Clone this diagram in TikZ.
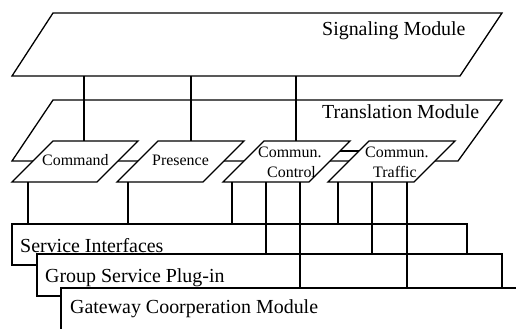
\documentclass[tikz,border=0pt]{standalone}
\usepackage{fontspec}
\setmainfont{Liberation Serif}
\begin{document}
\begin{tikzpicture}[x=1bp,y=-1bp,
  modbox/.style={draw=black,fill=white,line width=1.3bp,line join=miter},
  conn/.style={draw=black,line width=1.3bp},
  big/.style={font=\fontsize{20}{22}\selectfont,inner sep=0pt,anchor=base west},
  small/.style={font=\fontsize{16}{18}\selectfont,inner sep=0pt,anchor=base west}]
\useasboundingbox (0,0) rectangle (516,328);
\fill[white] (0,0) rectangle (516,328);
% Signaling module
\draw[modbox] (53,13) -- (502,13) -- (460,76) -- (12,76) -- cycle;
\node[big] (sigtxt) at (322,35) {Signaling Module};
% Translation module
\draw[modbox] (53,100) -- (502,100) -- (458,161) -- (12,161) -- cycle;
\node[big] (trtxt) at (322,118) {Translation Module};
% anchor coordinates
\coordinate (s1) at (84,76);  \coordinate (c1) at (84,141);
\coordinate (s2) at (191,76); \coordinate (c2) at (191,141);
\coordinate (s3) at (296,76); \coordinate (c3) at (296,141);
\draw[conn] (s1) -- (c1);
\draw[conn] (s2) -- (c2);
\draw[conn] (s3) -- (c3);
% small modules
\draw[modbox] (53,141) -- (138,141) -- (97,182) -- (12,182) -- cycle;
\node[small] (cmd) at (42,165) {Command};
\draw[modbox] (158,141) -- (244,141) -- (203,182) -- (117,182) -- cycle;
\node[small] (pres) at (152,165) {Presence};
\draw[modbox] (264,141) -- (350,141) -- (309,182) -- (223,182) -- cycle;
\node[small] (cc1) at (258,157) {Commun.};
\node[small] (cc2) at (267,177) {Control};
\draw[modbox] (369,141) -- (455,141) -- (414,182) -- (328,182) -- cycle;
\node[small] (ct1) at (365,157) {Commun.};
\node[small] (ct2) at (373,177) {Traffic};
\coordinate (ccR) at (340,151);
\coordinate (ctL) at (359,151);
\draw[conn,line width=2.2bp] (ccR) -- (ctL);
% lower boxes
\draw[modbox] (12,224) rectangle (467,265);
\node[big] (si) at (20,252) {Service Interfaces};
\draw[modbox] (37,254) rectangle (502,296);
\node[big] (gs) at (45,282) {Group Service Plug-in};
\fill[white] (61,288) rectangle (530,340);
\draw[conn] (530,288) -- (61,288) -- (61,340);
\node[big] (gw) at (70,313) {Gateway Coorperation Module};
% lower connectors
\foreach \x/\yb in {28/224,128/224,232/224,266/254,300/288,338/224,372/254,407/288}{
  \coordinate (u\x) at (\x,182);
  \coordinate (d\x) at (\x,\yb);
  \draw[conn] (u\x) -- (d\x);
}
\end{tikzpicture}
\end{document}
